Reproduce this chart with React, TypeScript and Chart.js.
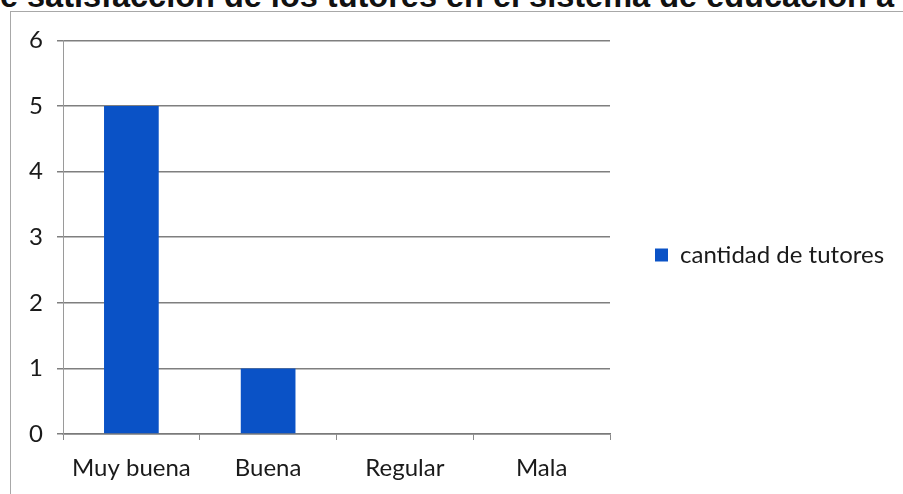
import React, { useEffect, useRef } from 'react';
import { Chart, registerables } from 'chart.js';

Chart.register(...registerables);

const titleText = 'de satisfacción de los tutores en el sistema de educación a';
const categories = ['Muy buena', 'Buena', 'Regular', 'Mala'];
const seriesLabel = 'cantidad de tutores';
const tutores = [5, 1, 0, 0];
const yMin = 0;
const yMax = 6;
const yStep = 1;

const FONT = 'Lato, "Open Sans", sans-serif';
const LEGEND_WIDTH = 293;
const LEGEND_SHIFT = -12;

const legendFitPlugin = {
  id: 'legendFit',
  afterInit(chart: any) {
    const lg = chart.legend;
    if (!lg) return;
    const orig = lg.fit.bind(lg);
    lg.fit = function () {
      orig();
      this.width = LEGEND_WIDTH;
    };
  },
  afterLayout(chart: any) {
    const lg = chart.legend;
    if (!lg) return;
    lg.top += LEGEND_SHIFT;
    lg.bottom += LEGEND_SHIFT;
  },
};

export default function App() {
  const canvasRef = useRef<HTMLCanvasElement | null>(null);

  useEffect(() => {
    if (!canvasRef.current) return;
    const chart = new Chart(canvasRef.current, {
      type: 'bar',
      data: {
        labels: categories,
        datasets: [
          {
            label: seriesLabel,
            data: tutores,
            backgroundColor: '#0a52c6',
            borderWidth: 0,
            barPercentage: 0.4,
            categoryPercentage: 1,
          },
        ],
      },
      plugins: [legendFitPlugin],
      options: {
        animation: false,
        responsive: false,
        maintainAspectRatio: false,
        layout: { padding: { top: 28, bottom: 0, left: 0, right: 0 } },
        plugins: {
          title: { display: false },
          tooltip: { enabled: false },
          legend: {
            position: 'right',
            labels: {
              boxWidth: 13,
              boxHeight: 13,
              padding: 45,
              color: '#1a1a1a',
              font: { family: FONT, size: 24 },
            },
          },
        },
        scales: {
          x: {
            grid: {
              display: true,
              drawOnChartArea: false,
              offset: true,
              tickLength: 6,
              color: '#8a8a8a',
              lineWidth: 1,
            },
            border: { color: '#7a7a7a', width: 1.5 },
            ticks: {
              color: '#1a1a1a',
              padding: 14,
              font: { family: FONT, size: 24 },
            },
            afterFit: (s: any) => {
              s.height = 60;
            },
          },
          y: {
            min: yMin,
            max: yMax,
            ticks: {
              stepSize: yStep,
              color: '#1a1a1a',
              padding: 14,
              font: { family: FONT, size: 24 },
            },
            grid: {
              color: '#7f7f7f',
              lineWidth: 1.5,
              tickLength: 6,
            },
            border: { color: '#9a9a9a', width: 1 },
            afterFit: (s: any) => {
              s.width = 52;
            },
          },
        },
      },
    });
    return () => chart.destroy();
  }, []);

  return (
    <div
      style={{
        position: 'fixed',
        left: 0,
        top: 0,
        width: 903,
        height: 494,
        overflow: 'hidden',
        background: '#fff',
      }}
    >
      <div
        style={{
          position: 'absolute',
          right: 9,
          top: -24,
          whiteSpace: 'nowrap',
          fontFamily: '"Liberation Sans", Arial, sans-serif',
          fontWeight: 'bold',
          fontSize: 32.5,
          lineHeight: '40px',
          color: '#111',
        }}
      >
        {titleText}
      </div>
      <div
        style={{
          position: 'absolute',
          left: 10,
          top: 11,
          width: 893,
          height: 483,
          borderLeft: '1px solid #a8a8a8',
          borderTop: '1px solid #a8a8a8',
        }}
      >
        <canvas ref={canvasRef} width={892} height={482} style={{ display: 'block' }} />
      </div>
    </div>
  );
}
